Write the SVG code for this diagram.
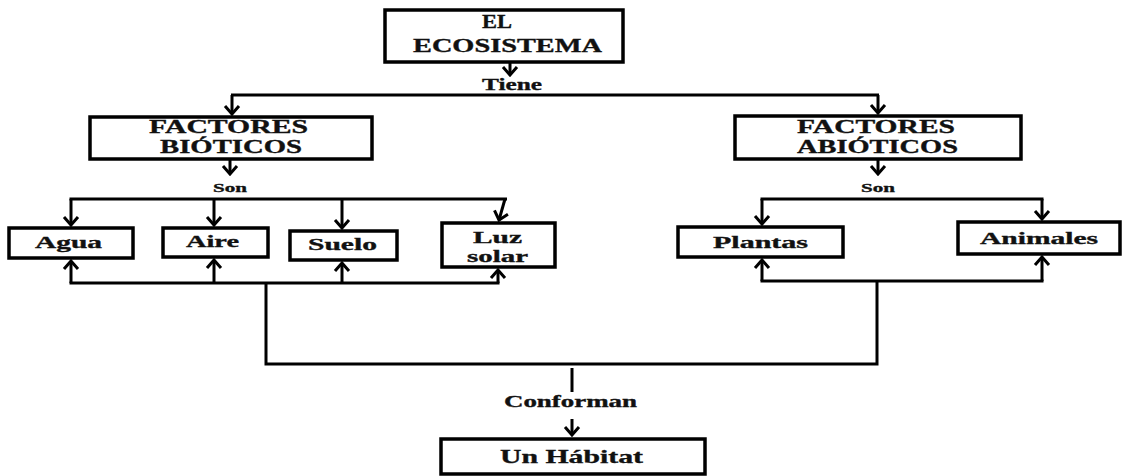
<svg xmlns="http://www.w3.org/2000/svg" width="1124" height="476" viewBox="0 0 1124 476">
<style>
.box{fill:#fff;stroke:#000;stroke-width:3.5}
.t{font-family:"Liberation Serif","Times New Roman",serif;font-weight:bold;fill:#111;stroke:#111;stroke-width:0.35}
.big{font-size:19px}
.mid{font-size:17.5px}
.sm{font-size:13.5px}
.lbl{font-size:16.5px}
.ln{fill:none;stroke:#000;stroke-width:3}
</style>
<defs>
<marker id="ah" viewBox="-12 -9 14 18" refX="0" refY="0" markerWidth="14" markerHeight="18" markerUnits="userSpaceOnUse" orient="auto">
<path d="M-8,-7 L0,0 L-8,7" fill="none" stroke="#000" stroke-width="3"/>
</marker>
</defs>
<rect width="1124" height="476" fill="#fff"/>
<g id="connectors">
<line class="ln" x1="510" y1="62" x2="510" y2="75" marker-end="url(#ah)"/>
<line class="ln" x1="231" y1="95" x2="879" y2="95"/>
<line class="ln" x1="232" y1="95" x2="232" y2="114" marker-end="url(#ah)"/>
<line class="ln" x1="878" y1="95" x2="878" y2="113" marker-end="url(#ah)"/>
<line class="ln" x1="230" y1="159" x2="230" y2="174" marker-end="url(#ah)"/>
<line class="ln" x1="878" y1="159" x2="878" y2="174" marker-end="url(#ah)"/>
<line class="ln" x1="69.5" y1="199" x2="507" y2="199"/>
<line class="ln" x1="71" y1="199" x2="71" y2="225" marker-end="url(#ah)"/>
<line class="ln" x1="214" y1="199" x2="214" y2="225" marker-end="url(#ah)"/>
<line class="ln" x1="342" y1="199" x2="342" y2="228" marker-end="url(#ah)"/>
<path class="ln" d="M505,199 L499,220" marker-end="url(#ah)"/>
<line class="ln" x1="760.5" y1="199" x2="1043.5" y2="199"/>
<line class="ln" x1="762" y1="199" x2="762" y2="224" marker-end="url(#ah)"/>
<line class="ln" x1="1042" y1="199" x2="1042" y2="219" marker-end="url(#ah)"/>
<line class="ln" x1="69.5" y1="283" x2="499.5" y2="283"/>
<line class="ln" x1="71" y1="283" x2="71" y2="261" marker-end="url(#ah)"/>
<line class="ln" x1="214" y1="283" x2="214" y2="260" marker-end="url(#ah)"/>
<line class="ln" x1="342" y1="283" x2="342" y2="263" marker-end="url(#ah)"/>
<line class="ln" x1="498" y1="283" x2="498" y2="270" marker-end="url(#ah)"/>
<line class="ln" x1="760.5" y1="281" x2="1043.5" y2="281"/>
<line class="ln" x1="762" y1="281" x2="762" y2="260" marker-end="url(#ah)"/>
<line class="ln" x1="1042" y1="281" x2="1042" y2="257" marker-end="url(#ah)"/>
<path class="ln" d="M266,283 L266,364 L877,364 L877,281"/>
<line class="ln" x1="572" y1="368" x2="572" y2="392"/>
<line class="ln" x1="572" y1="419" x2="572" y2="435" marker-end="url(#ah)"/>
</g>
<g id="ecosistema">
<rect class="box" x="385" y="10" width="238" height="52"/>
<text class="t big" x="482" y="28" textLength="30" lengthAdjust="spacingAndGlyphs">EL</text>
<text class="t big" x="413" y="52" textLength="189" lengthAdjust="spacingAndGlyphs">ECOSISTEMA</text>
</g>
<g id="label-tiene">
<text class="t lbl" x="482" y="90" textLength="60" lengthAdjust="spacingAndGlyphs">Tiene</text>
</g>
<g id="bioticos">
<rect class="box" x="90" y="117" width="282" height="42"/>
<text class="t big" x="149" y="133" textLength="159" lengthAdjust="spacingAndGlyphs">FACTORES</text>
<text class="t big" x="160" y="153" textLength="142" lengthAdjust="spacingAndGlyphs">BIÓTICOS</text>
</g>
<g id="abioticos">
<rect class="box" x="735" y="116" width="286" height="43"/>
<text class="t big" x="797" y="133" textLength="158" lengthAdjust="spacingAndGlyphs">FACTORES</text>
<text class="t big" x="797" y="153" textLength="161" lengthAdjust="spacingAndGlyphs">ABIÓTICOS</text>
</g>
<g id="label-son-left">
<text class="t sm" x="213" y="192" textLength="34" lengthAdjust="spacingAndGlyphs">Son</text>
</g>
<g id="label-son-right">
<text class="t sm" x="861" y="192" textLength="34" lengthAdjust="spacingAndGlyphs">Son</text>
</g>
<g id="agua">
<rect class="box" x="9" y="228" width="124" height="30"/>
<text class="t mid" x="35" y="248" textLength="67" lengthAdjust="spacingAndGlyphs">Agua</text>
</g>
<g id="aire">
<rect class="box" x="163" y="228" width="105" height="29"/>
<text class="t mid" x="186" y="247" textLength="53" lengthAdjust="spacingAndGlyphs">Aire</text>
</g>
<g id="suelo">
<rect class="box" x="290" y="231" width="107" height="29"/>
<text class="t mid" x="308" y="250" textLength="69" lengthAdjust="spacingAndGlyphs">Suelo</text>
</g>
<g id="luz-solar">
<rect class="box" x="442" y="223" width="113" height="44"/>
<text class="t mid" x="473" y="243" textLength="49" lengthAdjust="spacingAndGlyphs">Luz</text>
<text class="t mid" x="467" y="262" textLength="61" lengthAdjust="spacingAndGlyphs">solar</text>
</g>
<g id="plantas">
<rect class="box" x="678" y="227" width="165" height="30"/>
<text class="t mid" x="713" y="248" textLength="95" lengthAdjust="spacingAndGlyphs">Plantas</text>
</g>
<g id="animales">
<rect class="box" x="958" y="222" width="162" height="32"/>
<text class="t mid" x="980" y="244" textLength="118" lengthAdjust="spacingAndGlyphs">Animales</text>
</g>
<g id="label-conforman">
<text class="t lbl" x="504" y="407" textLength="133" lengthAdjust="spacingAndGlyphs">Conforman</text>
</g>
<g id="habitat">
<rect class="box" x="441" y="439" width="264" height="35"/>
<text class="t big" x="500" y="463" textLength="143" lengthAdjust="spacingAndGlyphs">Un Hábitat</text>
</g>
</svg>
